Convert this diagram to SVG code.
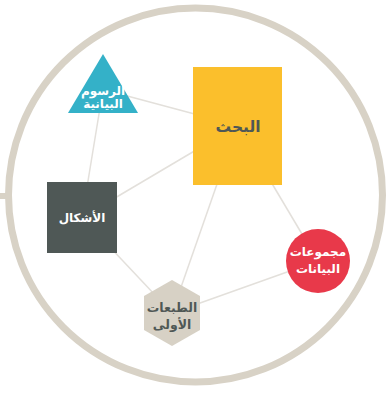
<svg xmlns="http://www.w3.org/2000/svg" width="387" height="393" viewBox="0 0 387 393">
<style>
.conn{stroke:#e3e0db;stroke-width:1.5;fill:none}
.lbl{font-family:"DejaVu Sans","Noto Sans",sans-serif;font-weight:bold;text-anchor:middle;dominant-baseline:central}
.w{fill:#ffffff;font-size:12px}
</style>
<rect width="387" height="393" fill="#ffffff"/>
<g id="ring">
<line x1="0" y1="196" x2="10" y2="196" stroke="#d8d2c6" stroke-width="6"/>
<circle cx="195.5" cy="195" r="187" fill="none" stroke="#d8d2c6" stroke-width="7"/>
</g>
<g id="connectors">
<line class="conn" x1="103" y1="89.5" x2="237.5" y2="125.5"/>
<line class="conn" x1="103" y1="89.5" x2="82" y2="217.5"/>
<line class="conn" x1="237.5" y1="125.5" x2="82" y2="217.5"/>
<line class="conn" x1="237.5" y1="125.5" x2="172" y2="313"/>
<line class="conn" x1="237.5" y1="125.5" x2="318" y2="261"/>
<line class="conn" x1="82" y1="217.5" x2="172" y2="313"/>
<line class="conn" x1="172" y1="313" x2="318" y2="261"/>
</g>
<g id="charts">
<polygon points="103,54 138,113 68,113" fill="#34b1c8"/>
<text class="lbl w" x="103" y="91" font-size="10.5">الرسوم</text>
<text class="lbl w" x="103" y="104" font-size="10.5">البيانية</text>
</g>
<g id="research">
<rect x="193" y="67" width="89" height="118" fill="#fbbf2c"/>
<text class="lbl" x="238" y="127" font-size="15.5" fill="#4f5856">البحث</text>
</g>
<g id="figures">
<rect x="47" y="182" width="70" height="71" fill="#4f5856"/>
<text class="lbl w" x="82" y="218" font-size="12.5">الأشكال</text>
</g>
<g id="first-editions">
<polygon points="172,280 200,296 200,330 172,346 144,330 144,296" fill="#d7d1c5"/>
<text class="lbl" x="172" y="307" font-size="12.5" fill="#4f5856">الطبعات</text>
<text class="lbl" x="172" y="324" font-size="12.5" fill="#4f5856">الأولى</text>
</g>
<g id="datasets">
<circle cx="318" cy="261" r="32" fill="#e8394a"/>
<text class="lbl w" x="318" y="252" font-size="12.5">مجموعات</text>
<text class="lbl w" x="318" y="269" font-size="12.5">البيانات</text>
</g>
</svg>
